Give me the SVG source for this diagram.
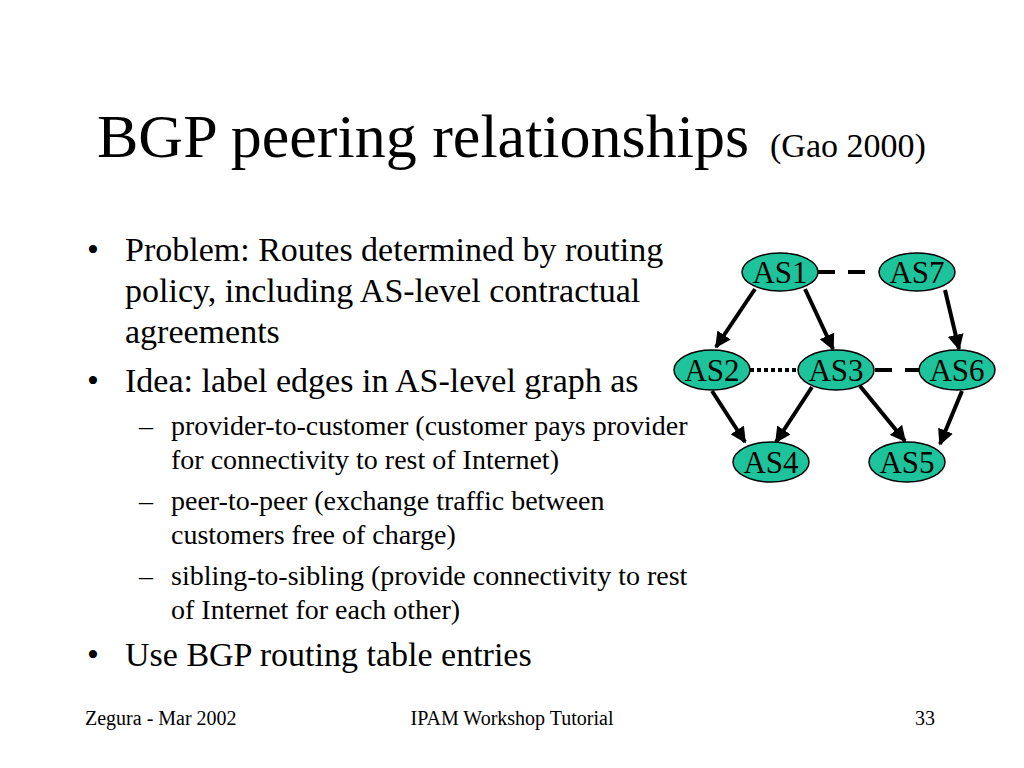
<svg xmlns="http://www.w3.org/2000/svg" width="1024" height="768" viewBox="0 0 1024 768">
<style>
.t{font-family:"Liberation Serif","Times New Roman",serif;fill:#000}
.node ellipse{fill:#1CC39B;stroke:#000;stroke-width:1.5}
.node text{font-family:"Liberation Serif","Times New Roman",serif;font-size:31px;text-anchor:middle;fill:#000}
.arr{stroke:#000;stroke-width:4;fill:none;marker-end:url(#ah)}
.dash{stroke:#000;stroke-width:4;fill:none;stroke-dasharray:17 13}
.dot{stroke:#000;stroke-width:4;fill:none;stroke-dasharray:4 3}
</style>
<defs>
<marker id="ah" viewBox="0 0 10 10" refX="9" refY="5" markerWidth="4" markerHeight="4" orient="auto" markerUnits="strokeWidth">
<path d="M0,0 L10,5 L0,10 z" fill="#000"/>
</marker>
</defs>
<rect width="1024" height="768" fill="#fff"/>
<text class="t" x="97" y="157" font-size="62">BGP peering relationships</text>
<text class="t" x="770" y="157" font-size="34">(Gao 2000)</text>
<g class="t" font-size="34">
<text x="87" y="261">•</text>
<text x="125" y="261">Problem: Routes determined by routing</text>
<text x="125" y="302">policy, including AS-level contractual</text>
<text x="125" y="343">agreements</text>
<text x="87" y="392">•</text>
<text x="125" y="392">Idea: label edges in AS-level graph as</text>
<text x="87" y="666">•</text>
<text x="125" y="666">Use BGP routing table entries</text>
</g>
<g class="t" font-size="28">
<text x="139" y="435">–</text>
<text x="171" y="435">provider-to-customer (customer pays provider</text>
<text x="171" y="469">for connectivity to rest of Internet)</text>
<text x="139" y="510">–</text>
<text x="171" y="510">peer-to-peer (exchange traffic between</text>
<text x="171" y="544">customers free of charge)</text>
<text x="139" y="585">–</text>
<text x="171" y="585">sibling-to-sibling (provide connectivity to rest</text>
<text x="171" y="619">of Internet for each other)</text>
</g>
<g class="t" font-size="20">
<text x="85" y="725">Zegura - Mar 2002</text>
<text x="512" y="725" text-anchor="middle">IPAM Workshop Tutorial</text>
<text x="935" y="725" text-anchor="end">33</text>
</g>
<g id="connectors">
<line class="arr" x1="755" y1="289" x2="716" y2="347"/>
<line class="arr" x1="805" y1="289" x2="833" y2="349"/>
<line class="arr" x1="945" y1="290" x2="959" y2="349"/>
<line class="arr" x1="712" y1="391" x2="745" y2="442"/>
<line class="arr" x1="812" y1="387" x2="776" y2="442"/>
<line class="arr" x1="860" y1="386" x2="905" y2="441"/>
<line class="arr" x1="962" y1="391" x2="940" y2="444"/>
<line class="dash" x1="818" y1="272" x2="878" y2="272"/>
<line class="dot" x1="750" y1="370" x2="798" y2="370"/>
<line class="dash" x1="875" y1="370" x2="920" y2="370"/>
</g>
<g id="AS1" class="node"><ellipse cx="780" cy="272" rx="38" ry="19"/><text x="780" y="283">AS1</text></g>
<g id="AS7" class="node"><ellipse cx="917" cy="272" rx="38" ry="19"/><text x="917" y="283">AS7</text></g>
<g id="AS2" class="node"><ellipse cx="712" cy="370" rx="38" ry="20"/><text x="712" y="381">AS2</text></g>
<g id="AS3" class="node"><ellipse cx="836" cy="370" rx="38" ry="20"/><text x="836" y="381">AS3</text></g>
<g id="AS6" class="node"><ellipse cx="957" cy="370" rx="38" ry="20"/><text x="957" y="381">AS6</text></g>
<g id="AS4" class="node"><ellipse cx="771" cy="462" rx="38" ry="20"/><text x="771" y="473">AS4</text></g>
<g id="AS5" class="node"><ellipse cx="907" cy="462" rx="38" ry="20"/><text x="907" y="473">AS5</text></g>
</svg>
